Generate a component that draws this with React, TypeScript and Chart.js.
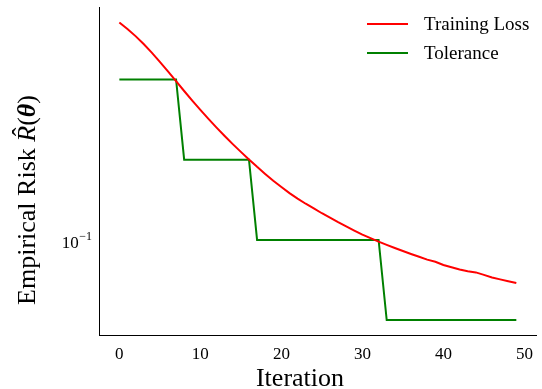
import React, { useEffect, useRef } from "react";
import { Chart, registerables } from "chart.js";

Chart.register(...registerables);

// ---------------- data ----------------
const iterations = [
  0, 1, 2, 3, 4, 5, 6, 7, 8, 9, 10, 11, 12, 13, 14, 15, 16, 17, 18, 19, 20, 21, 22, 23, 24,
  25, 26, 27, 28, 29, 30, 31, 32, 33, 34, 35, 36, 37, 38, 39, 40, 41, 42, 43, 44, 45, 46, 47,
  48, 49,
];

const trainingLoss = [
  0.6551, 0.6195, 0.5821, 0.5436, 0.5048, 0.4661, 0.4291, 0.3942, 0.3622, 0.3333, 0.3076,
  0.2845, 0.264, 0.2455, 0.2289, 0.214, 0.2005, 0.188, 0.1769, 0.1668, 0.1579, 0.1498,
  0.1429, 0.1367, 0.1312, 0.1259, 0.1212, 0.1166, 0.1124, 0.1084, 0.1047, 0.1015, 0.0985,
  0.0958, 0.0932, 0.0908, 0.0885, 0.0864, 0.0843, 0.0828, 0.0805, 0.0789, 0.0774, 0.0763,
  0.0755, 0.0739, 0.0723, 0.0711, 0.07, 0.0689,
];

const tolerance = [
  0.4, 0.4, 0.4, 0.4, 0.4, 0.4, 0.4, 0.4, 0.2, 0.2, 0.2, 0.2, 0.2, 0.2, 0.2, 0.2, 0.2, 0.1,
  0.1, 0.1, 0.1, 0.1, 0.1, 0.1, 0.1, 0.1, 0.1, 0.1, 0.1, 0.1, 0.1, 0.1, 0.1, 0.05, 0.05, 0.05,
  0.05, 0.05, 0.05, 0.05, 0.05, 0.05, 0.05, 0.05, 0.05, 0.05, 0.05, 0.05, 0.05, 0.05,
];

const seriesNames = ["Training Loss", "Tolerance"];
const seriesColors = ["#ff0000", "#008000"];

const xTicks = [0, 10, 20, 30, 40, 50];
const yTicks = [0.1];
const xMin = -2.45;
const xMax = 51.45;
const yMin = 0.04395;
const yMax = 0.7454;

const SERIF = "'Liberation Serif', 'Times New Roman', serif";

const textPlugin = {
  id: "textPlugin",
  afterDraw(chart: any) {
    const ctx = chart.ctx as CanvasRenderingContext2D;
    const ys = chart.scales.y;
    ctx.save();
    ctx.fillStyle = "#000";

    // y tick labels: 10^{-1}
    yTicks.forEach((v) => {
      const py = ys.getPixelForValue(v);
      const exp = Math.round(Math.log10(v));
      const supText = (exp < 0 ? "\u2212" : "") + String(Math.abs(exp));
      ctx.textBaseline = "alphabetic";
      ctx.font = `12px ${SERIF}`;
      const supW = ctx.measureText(supText).width;
      const right = 92;
      ctx.textAlign = "left";
      ctx.fillText(supText, right - supW, py + 0.5);
      ctx.font = `17px ${SERIF}`;
      ctx.textAlign = "right";
      ctx.fillText("10", right - supW - 0.5, py + 8.5);
    });

    // x axis title
    ctx.font = `26px ${SERIF}`;
    ctx.textAlign = "center";
    ctx.textBaseline = "alphabetic";
    ctx.fillText("Iteration", 300, 386);

    // y axis title (rotated, mixed fonts)
    const parts = [
      { t: "Empirical Risk ", f: `26px ${SERIF}`, hat: false },
      { t: "R", f: `italic 26px ${SERIF}`, hat: true },
      { t: "(", f: `26px ${SERIF}`, hat: false },
      { t: "\u03B8", f: `italic bold 26px ${SERIF}`, hat: false },
      { t: ")", f: `26px ${SERIF}`, hat: false },
    ];
    let total = 0;
    const widths = parts.map((p) => {
      ctx.font = p.f;
      const w = ctx.measureText(p.t).width;
      total += w;
      return w;
    });
    ctx.translate(35, 200 + total / 2);
    ctx.rotate(-Math.PI / 2);
    ctx.textAlign = "left";
    let cx = 0;
    parts.forEach((p, i) => {
      ctx.font = p.f;
      ctx.fillText(p.t, cx, 0);
      if (p.hat) {
        ctx.font = `26px ${SERIF}`;
        ctx.textAlign = "center";
        ctx.fillText("\u02C6", cx + widths[i] / 2 + 2, -5);
        ctx.textAlign = "left";
      }
      cx += widths[i];
    });
    ctx.restore();

    // legend
    ctx.save();
    ctx.font = `19px ${SERIF}`;
    ctx.textAlign = "left";
    ctx.textBaseline = "middle";
    const rows = [24, 53];
    seriesNames.forEach((name, i) => {
      const y = rows[i];
      ctx.strokeStyle = seriesColors[i];
      ctx.lineWidth = 2;
      ctx.beginPath();
      ctx.moveTo(367, y);
      ctx.lineTo(408, y);
      ctx.stroke();
      ctx.fillStyle = "#000";
      ctx.fillText(name, 424, y + 1);
    });
    ctx.restore();
  },
};

export default function App() {
  const ref = useRef<HTMLCanvasElement | null>(null);

  useEffect(() => {
    if (!ref.current) return;
    const chart = new Chart(ref.current, {
      type: "line",
      data: {
        datasets: [
          {
            label: seriesNames[0],
            data: iterations.map((x, i) => ({ x, y: trainingLoss[i] })),
            borderColor: seriesColors[0],
            borderWidth: 2,
            pointRadius: 0,
            tension: 0,
            fill: false,
          },
          {
            label: seriesNames[1],
            data: iterations.map((x, i) => ({ x, y: tolerance[i] })),
            borderColor: seriesColors[1],
            borderWidth: 2,
            pointRadius: 0,
            tension: 0,
            fill: false,
          },
        ],
      },
      options: {
        animation: false,
        responsive: false,
        devicePixelRatio: 1,
        layout: { padding: { top: 7.5, right: 2.5, left: 0, bottom: 0 } },
        plugins: {
          legend: { display: false },
          tooltip: { enabled: false },
          title: { display: false },
        },
        scales: {
          x: {
            type: "linear",
            min: xMin,
            max: xMax,
            afterBuildTicks: (scale: any) => {
              scale.ticks = xTicks.map((v) => ({ value: v }));
            },
            afterFit: (scale: any) => {
              scale.height = 54;
            },
            grid: { display: false, drawTicks: false },
            border: { display: true, color: "#000", width: 1 },
            ticks: {
              color: "#000",
              font: { family: SERIF, size: 17 },
              padding: 9,
              maxRotation: 0,
              autoSkip: false,
            },
          },
          y: {
            type: "logarithmic",
            min: yMin,
            max: yMax,
            afterFit: (scale: any) => {
              scale.width = 99.5;
            },
            grid: { display: false, drawTicks: false },
            border: { display: true, color: "#000", width: 1 },
            ticks: { display: false },
          },
        },
      },
      plugins: [textPlugin],
    } as any);
    return () => chart.destroy();
  }, []);

  return (
    <div style={{ position: "fixed", left: 0, top: 0, width: 542, height: 389, background: "#fff" }}>
      <canvas ref={ref} width={542} height={389} style={{ width: 542, height: 389 }} />
    </div>
  );
}
